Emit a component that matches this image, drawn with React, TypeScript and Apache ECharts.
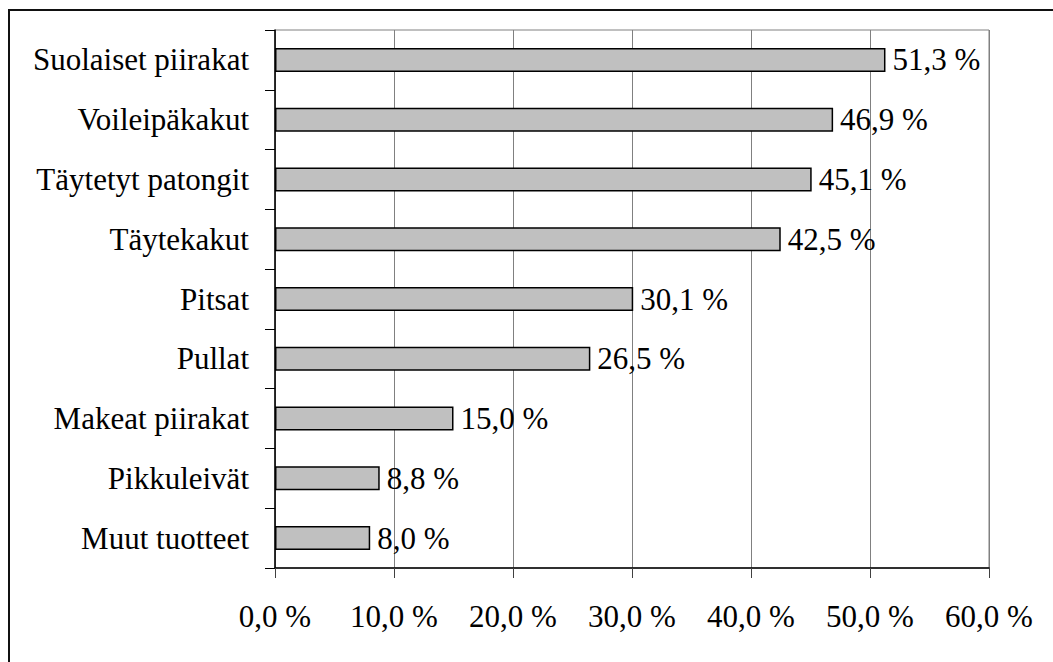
import React, { useEffect, useRef } from "react";
import * as echarts from "echarts";

const categories = [
  "Suolaiset piirakat",
  "Voileipäkakut",
  "Täytetyt patongit",
  "Täytekakut",
  "Pitsat",
  "Pullat",
  "Makeat piirakat",
  "Pikkuleivät",
  "Muut tuotteet",
];
const shares = [51.3, 46.9, 45.1, 42.5, 30.1, 26.5, 15.0, 8.8, 8.0];
const axisMin = 0;
const axisMax = 60;
const axisStep = 10;

const FONT = "Liberation Serif";
const FONT_SIZE = 31;
const fmt = (v: number) => v.toFixed(1).replace(".", ",") + " %";

export default function App() {
  const ref = useRef<HTMLDivElement>(null);

  useEffect(() => {
    if (!ref.current) return;
    const chart = echarts.init(ref.current, null, { renderer: "svg" });
    chart.setOption({
      animation: false,
      backgroundColor: "#ffffff",
      textStyle: { fontFamily: FONT },
      graphic: [
        {
          type: "rect",
          shape: { x: 9, y: 10, width: 1100, height: 700 },
          style: { fill: "none", stroke: "#111", lineWidth: 2 },
          silent: true,
        },
      ],
      grid: {
        left: 275,
        top: 30,
        right: 64,
        bottom: 94,
        show: true,
        borderColor: "#808080",
        borderWidth: 1,
        backgroundColor: "transparent",
      },
      xAxis: {
        type: "value",
        min: axisMin,
        max: axisMax,
        interval: axisStep,
        axisLine: { show: true, lineStyle: { color: "#000", width: 1.5 } },
        axisTick: { show: true, length: 10, lineStyle: { color: "#404040", width: 1 } },
        splitLine: { show: true, lineStyle: { color: "#808080", width: 1 } },
        axisLabel: {
          margin: 33,
          color: "#000",
          fontSize: FONT_SIZE,
          fontFamily: FONT,
          formatter: (v: number) => fmt(v),
        },
      },
      yAxis: {
        type: "category",
        data: categories,
        inverse: true,
        axisLine: { show: true, lineStyle: { color: "#000", width: 1.5 } },
        axisTick: { show: true, length: 10, lineStyle: { color: "#000", width: 1 } },
        axisLabel: {
          margin: 26,
          color: "#000",
          fontSize: FONT_SIZE,
          fontFamily: FONT,
        },
      },
      series: [
        {
          type: "bar",
          data: shares,
          barWidth: 24,
          itemStyle: { color: "#c0c0c0", borderColor: "#000", borderWidth: 1.5 },
          label: {
            show: true,
            position: "right",
            distance: 7,
            color: "#000",
            fontSize: FONT_SIZE,
            fontFamily: FONT,
            formatter: (p: any) => fmt(p.value),
          },
        },
      ],
    });
    return () => chart.dispose();
  }, []);

  return (
    <div
      ref={ref}
      style={{ position: "fixed", left: 0, top: 0, width: 1053, height: 662 }}
    />
  );
}
